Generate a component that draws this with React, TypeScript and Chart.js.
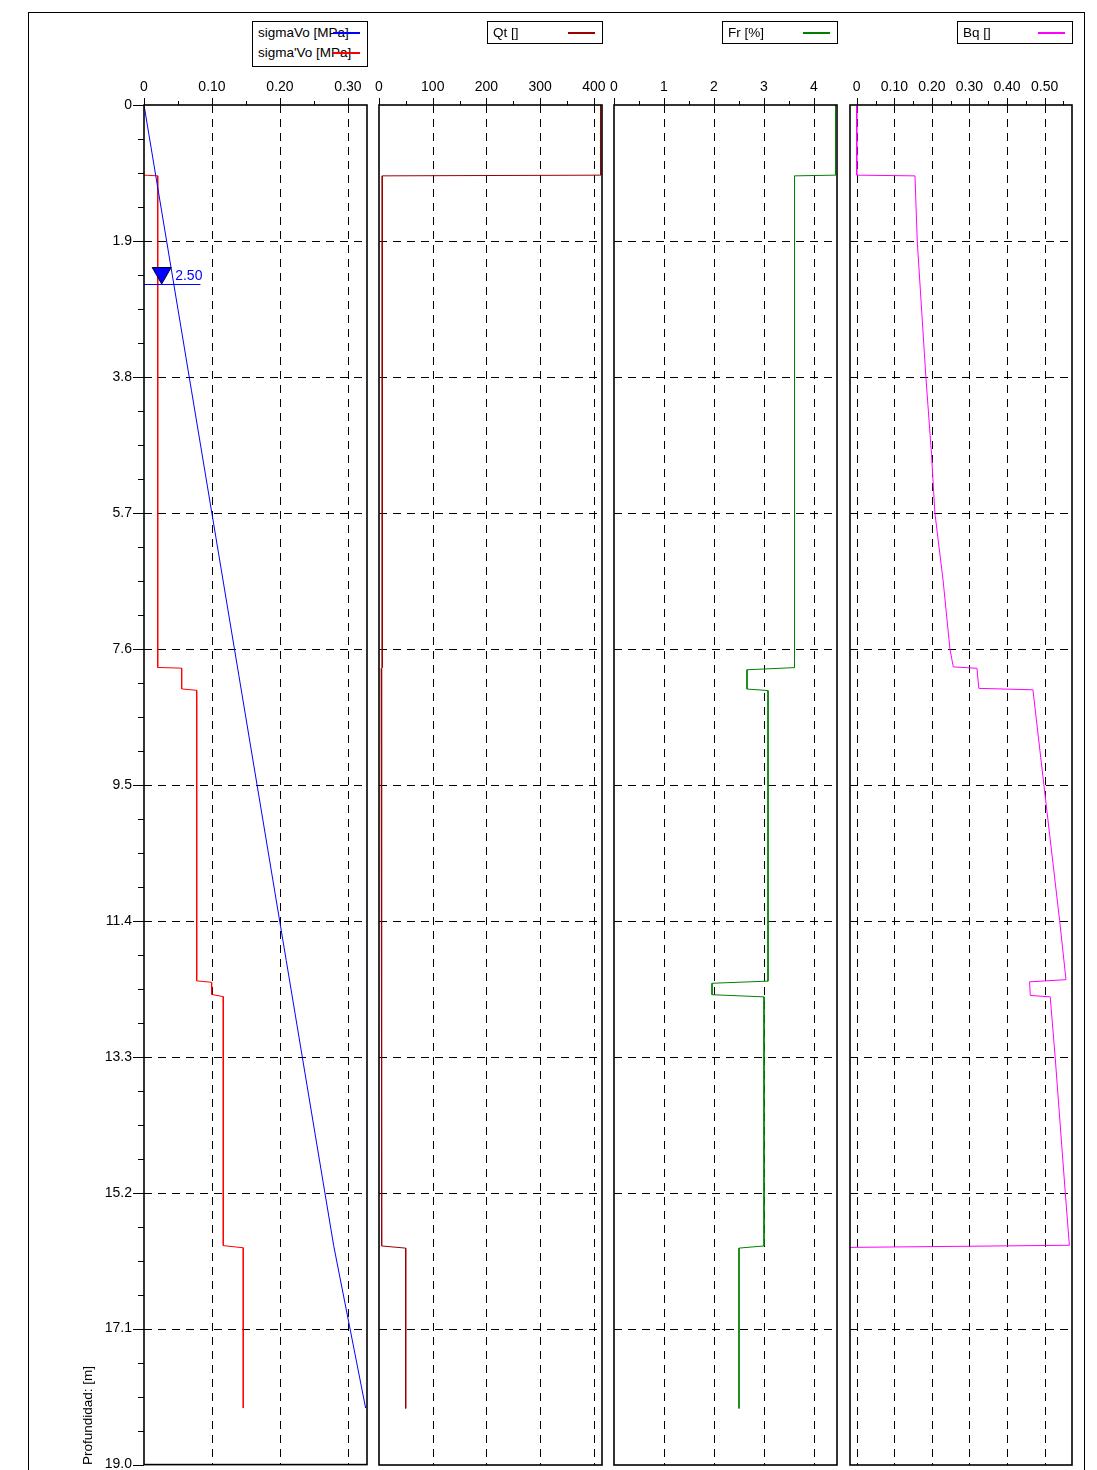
import React, { useEffect, useRef } from 'react';
import { Chart, registerables } from 'chart.js';

Chart.register(...registerables);

// ---------- depth axis ----------
const depthTicks = [0, 1.9, 3.8, 5.7, 7.6, 9.5, 11.4, 13.3, 15.2, 17.1, 19.0];
const depthTickLabels = ['0', '1.9', '3.8', '5.7', '7.6', '9.5', '11.4', '13.3', '15.2', '17.1', '19.0'];
const depthMin = 0;
const depthMax = 19.0;
const depthTitle = 'Profundidad: [m]';

// ---------- panel 1 : sigmaVo / sigma'Vo ----------
const stressTicks = [0, 0.1, 0.2, 0.3];
const stressTickLabels = ['0', '0.10', '0.20', '0.30'];
const stressMinorTicks = [0.05, 0.15, 0.25];
const sigmaVoDepth = [0, 15.94, 18.21];
const sigmaVoValue = [0, 0.279, 0.326];
const sigmaEffDepth = [0.98, 0.99, 7.86, 7.87, 8.16, 8.18, 12.24, 12.26, 12.43, 12.46, 15.94, 15.97, 18.21];
const sigmaEffValue = [0, 0.0202, 0.0202, 0.0554, 0.0554, 0.0775, 0.0775, 0.0995, 0.0995, 0.1166, 0.1166, 0.146, 0.146];
const waterDepth = 2.5;
const waterLabel = '2.50';

// ---------- panel 2 : Qt ----------
const qtTicks = [0, 100, 200, 300, 400];
const qtTickLabels = ['0', '100', '200', '300', '400'];
const qtMinorTicks = [50, 150, 250, 350];
const qtDepth = [0, 0.98, 0.99, 7.86, 7.87, 12.24, 12.26, 15.94, 15.97, 18.21];
const qtValue = [412.5, 412.5, 6, 6, 4, 4, 5.5, 5.5, 49.7, 49.7];

// ---------- panel 3 : Fr ----------
const frTicks = [0, 1, 2, 3, 4];
const frTickLabels = ['0', '1', '2', '3', '4'];
const frMinorTicks = [0.5, 1.5, 2.5, 3.5];
const frDepth = [0, 0.98, 0.99, 7.86, 7.89, 8.16, 8.18, 12.24, 12.27, 12.43, 12.46, 15.94, 15.97, 18.21];
const frValue = [4.43, 4.43, 3.61, 3.61, 2.66, 2.66, 3.08, 3.08, 1.96, 1.96, 3.0, 3.0, 2.5, 2.5];

// ---------- panel 4 : Bq ----------
const bqTicks = [0, 0.1, 0.2, 0.3, 0.4, 0.5];
const bqTickLabels = ['0', '0.10', '0.20', '0.30', '0.40', '0.50'];
const bqMinorTicks = [0.05, 0.15, 0.25, 0.35, 0.45, 0.55];
const bqDepth = [0, 0.98, 0.99, 1.9, 3.8, 4.88, 5.7, 6.65, 7.6, 7.85, 7.87, 8.15, 8.17, 9.49, 10.17, 11.39, 12.22, 12.25, 12.44, 12.46, 13.29, 15.19, 15.93, 15.96];
const bqValue = [0, 0, 0.155, 0.161, 0.184, 0.199, 0.208, 0.23, 0.248, 0.257, 0.32, 0.325, 0.469, 0.498, 0.513, 0.54, 0.557, 0.46, 0.462, 0.515, 0.528, 0.555, 0.566, -0.018];

// ---------- layout / style ----------
const FONT = "'Liberation Sans', Arial, sans-serif";
const CANVAS_TOP = 60;
const X_AXIS_H = 45;
const Y_AXIS_W = 90;
const PAD_R = 15;
const PAD_B = 20;
const CANVAS_BOTTOM = 1485;
const WATER_MARK_X = 0.026;
const WATER_LINE_END = 0.083;

type Series = { label: string; depth: number[]; value: number[]; color: string };
type PanelCfg = {
  key: string;
  left: number;
  right: number;
  min: number;
  max: number;
  ticks: number[];
  tickLabels: string[];
  minor: number[];
  showY: boolean;
  water: boolean;
  series: Series[];
};

const panels: PanelCfg[] = [
  {
    key: 'p1', left: 144, right: 367, min: 0, max: 0.328,
    ticks: stressTicks, tickLabels: stressTickLabels, minor: stressMinorTicks, showY: true, water: true,
    series: [
      { label: 'sigmaVo [MPa]', depth: sigmaVoDepth, value: sigmaVoValue, color: '#0000ff' },
      { label: "sigma'Vo [MPa]", depth: sigmaEffDepth, value: sigmaEffValue, color: '#ff0000' },
    ],
  },
  {
    key: 'p2', left: 379, right: 602, min: 0, max: 415,
    ticks: qtTicks, tickLabels: qtTickLabels, minor: qtMinorTicks, showY: false, water: false,
    series: [{ label: 'Qt []', depth: qtDepth, value: qtValue, color: '#990000' }],
  },
  {
    key: 'p3', left: 614, right: 837, min: 0, max: 4.46,
    ticks: frTicks, tickLabels: frTickLabels, minor: frMinorTicks, showY: false, water: false,
    series: [{ label: 'Fr [%]', depth: frDepth, value: frValue, color: '#008000' }],
  },
  {
    key: 'p4', left: 850, right: 1072, min: -0.018, max: 0.573,
    ticks: bqTicks, tickLabels: bqTickLabels, minor: bqMinorTicks, showY: false, water: false,
    series: [{ label: 'Bq []', depth: bqDepth, value: bqValue, color: '#ff00ff' }],
  },
];

function labelFor(v: number, vals: number[], labels: string[]) {
  for (let i = 0; i < vals.length; i++) if (Math.abs(vals[i] - v) < 1e-6) return labels[i];
  return '';
}

function minorDepths() {
  const out: number[] = [];
  for (let i = 0; i < depthTicks.length - 1; i++) {
    const a = depthTicks[i], b = depthTicks[i + 1];
    for (let k = 1; k < 4; k++) out.push(a + ((b - a) * k) / 4);
  }
  return out;
}

function makeDecor(p: PanelCfg) {
  return {
    id: 'decor_' + p.key,
    beforeDatasetsDraw(chart: any) {
      const { ctx, chartArea: a } = chart;
      const xs = chart.scales.x, ys = chart.scales.y;
      ctx.save();
      ctx.strokeStyle = '#000';
      ctx.lineWidth = 1;
      ctx.setLineDash([8, 6]);
      ctx.beginPath();
      p.ticks.forEach((v) => {
        const x = Math.round(xs.getPixelForValue(v)) + 0.5;
        if (x <= a.left + 1.5 || x >= a.right - 1.5) return;
        ctx.moveTo(x, a.top);
        ctx.lineTo(x, a.bottom);
      });
      depthTicks.forEach((d) => {
        if (d <= depthMin || d >= depthMax) return;
        const y = Math.round(ys.getPixelForValue(d)) + 0.5;
        ctx.moveTo(a.left, y);
        ctx.lineTo(a.right, y);
      });
      ctx.stroke();
      ctx.restore();
    },
    afterDatasetsDraw(chart: any) {
      if (!p.water) return;
      const { ctx } = chart;
      const xs = chart.scales.x, ys = chart.scales.y;
      const yW = Math.round(ys.getPixelForValue(waterDepth)) + 0.5;
      const xA = xs.getPixelForValue(0);
      const xB = xs.getPixelForValue(WATER_LINE_END);
      const xT = xs.getPixelForValue(WATER_MARK_X);
      ctx.save();
      ctx.strokeStyle = '#0000ff';
      ctx.lineWidth = 1;
      ctx.beginPath();
      ctx.moveTo(xA, yW);
      ctx.lineTo(xB, yW);
      ctx.stroke();
      ctx.beginPath();
      ctx.moveTo(xT - 9.5, yW - 17);
      ctx.lineTo(xT + 9.5, yW - 17);
      ctx.lineTo(xT, yW - 0.5);
      ctx.closePath();
      ctx.fillStyle = '#0000ff';
      ctx.fill();
      ctx.strokeStyle = '#000033';
      ctx.stroke();
      ctx.fillStyle = '#0000ff';
      ctx.font = `14px ${FONT}`;
      ctx.textAlign = 'left';
      ctx.textBaseline = 'middle';
      ctx.fillText(waterLabel, xT + 13.5, yW - 8);
      ctx.restore();
    },
    afterDraw(chart: any) {
      const { ctx, chartArea: a } = chart;
      const xs = chart.scales.x, ys = chart.scales.y;
      ctx.save();
      ctx.setLineDash([]);
      ctx.strokeStyle = '#000';
      ctx.lineWidth = 1.6;
      ctx.strokeRect(a.left, a.top, a.right - a.left, a.bottom - a.top);
      ctx.lineWidth = 1;
      ctx.beginPath();
      p.ticks.forEach((v) => {
        const x = Math.round(xs.getPixelForValue(v)) + 0.5;
        ctx.moveTo(x, a.top);
        ctx.lineTo(x, a.top - 7);
      });
      p.minor.forEach((v) => {
        const x = Math.round(xs.getPixelForValue(v)) + 0.5;
        ctx.moveTo(x, a.top);
        ctx.lineTo(x, a.top - 4);
      });
      if (p.showY) {
        depthTicks.forEach((d) => {
          const y = Math.round(ys.getPixelForValue(d)) + 0.5;
          ctx.moveTo(a.left - 11, y);
          ctx.lineTo(a.left, y);
        });
        minorDepths().forEach((d) => {
          const y = Math.round(ys.getPixelForValue(d)) + 0.5;
          ctx.moveTo(a.left - 6, y);
          ctx.lineTo(a.left, y);
        });
      }
      ctx.stroke();
      ctx.restore();
    },
  };
}

function Panel({ p }: { p: PanelCfg }) {
  const ref = useRef<HTMLCanvasElement | null>(null);
  const W = p.right - p.left + Y_AXIS_W + PAD_R;
  const H = CANVAS_BOTTOM - CANVAS_TOP;
  useEffect(() => {
    if (!ref.current) return;
    const chart = new Chart(ref.current, {
      type: 'scatter',
      data: {
        datasets: p.series.map((s) => ({
          label: s.label,
          data: s.depth.map((d, i) => ({ x: s.value[i], y: d })),
          borderColor: s.color,
          backgroundColor: s.color,
          borderWidth: 1,
          pointRadius: 0,
          showLine: true,
          fill: false,
          tension: 0,
        })),
      },
      options: {
        responsive: false,
        animation: false,
        devicePixelRatio: 1,
        events: [],
        layout: { padding: { left: 0, right: PAD_R, top: 0, bottom: PAD_B } },
        plugins: { legend: { display: false }, tooltip: { enabled: false }, title: { display: false } },
        scales: {
          x: {
            type: 'linear',
            position: 'top',
            min: p.min,
            max: p.max,
            afterBuildTicks: (s: any) => {
              s.ticks = p.ticks.map((v) => ({ value: v }));
            },
            afterFit: (s: any) => {
              s.height = X_AXIS_H;
            },
            grid: { display: false, drawTicks: false },
            border: { display: false },
            ticks: {
              autoSkip: false,
              maxRotation: 0,
              padding: 9,
              color: '#000',
              font: { family: FONT, size: 14 },
              callback: (v: any) => labelFor(Number(v), p.ticks, p.tickLabels),
            },
          },
          y: {
            type: 'linear',
            reverse: true,
            min: depthMin,
            max: depthMax,
            afterBuildTicks: (s: any) => {
              s.ticks = depthTicks.map((v) => ({ value: v }));
            },
            afterFit: (s: any) => {
              s.width = Y_AXIS_W;
            },
            grid: { display: false, drawTicks: false },
            border: { display: false },
            ticks: {
              display: p.showY,
              autoSkip: false,
              padding: 12,
              color: '#000',
              font: { family: FONT, size: 14 },
              callback: (v: any) => labelFor(Number(v), depthTicks, depthTickLabels),
            },
          },
        },
      } as any,
      plugins: [makeDecor(p)],
    });
    return () => chart.destroy();
  }, []);
  return (
    <canvas
      ref={ref}
      width={W}
      height={H}
      style={{ position: 'absolute', left: p.left - Y_AXIS_W, top: CANVAS_TOP, width: W, height: H }}
    />
  );
}

function Legend({ p }: { p: PanelCfg }) {
  const rows = p.series.length;
  const boxLeft = p.right - 115;
  const boxTop = 21;
  const h = rows === 1 ? 23 : 46;
  return (
    <div
      style={{
        position: 'absolute',
        left: boxLeft,
        top: boxTop,
        width: 116,
        height: h,
        boxSizing: 'border-box',
        border: '1px solid #000',
        background: '#fff',
      }}
    >
      {p.series.map((s, i) => (
        <React.Fragment key={s.label}>
          <div
            style={{
              position: 'absolute',
              left: 5,
              top: 2.5 + i * 20.4,
              lineHeight: '16px',
              fontSize: 13.5,
              fontFamily: FONT,
              color: '#000',
              whiteSpace: 'nowrap',
            }}
          >
            {s.label}
          </div>
          <div
            style={{
              position: 'absolute',
              left: 80,
              top: 9.5 + i * 20.4,
              width: 27,
              height: 2,
              background: s.color,
            }}
          />
        </React.Fragment>
      ))}
    </div>
  );
}

export default function App() {
  return (
    <div
      style={{
        position: 'absolute',
        left: 0,
        top: 0,
        width: 1097,
        height: 1470,
        overflow: 'hidden',
        background: '#fff',
      }}
    >
      <div
        style={{
          position: 'absolute',
          left: 28,
          top: 12,
          width: 1057,
          height: 1500,
          boxSizing: 'border-box',
          border: '1.5px solid #000',
        }}
      />
      {panels.map((p) => (
        <Panel key={p.key} p={p} />
      ))}
      {panels.map((p) => (
        <Legend key={'l' + p.key} p={p} />
      ))}
      <div
        style={{
          position: 'absolute',
          left: 80,
          top: 1465,
          transformOrigin: '0 0',
          transform: 'rotate(-90deg)',
          lineHeight: '16px',
          fontSize: 13.5,
          fontFamily: FONT,
          color: '#000',
          whiteSpace: 'nowrap',
        }}
      >
        {depthTitle}
      </div>
    </div>
  );
}
